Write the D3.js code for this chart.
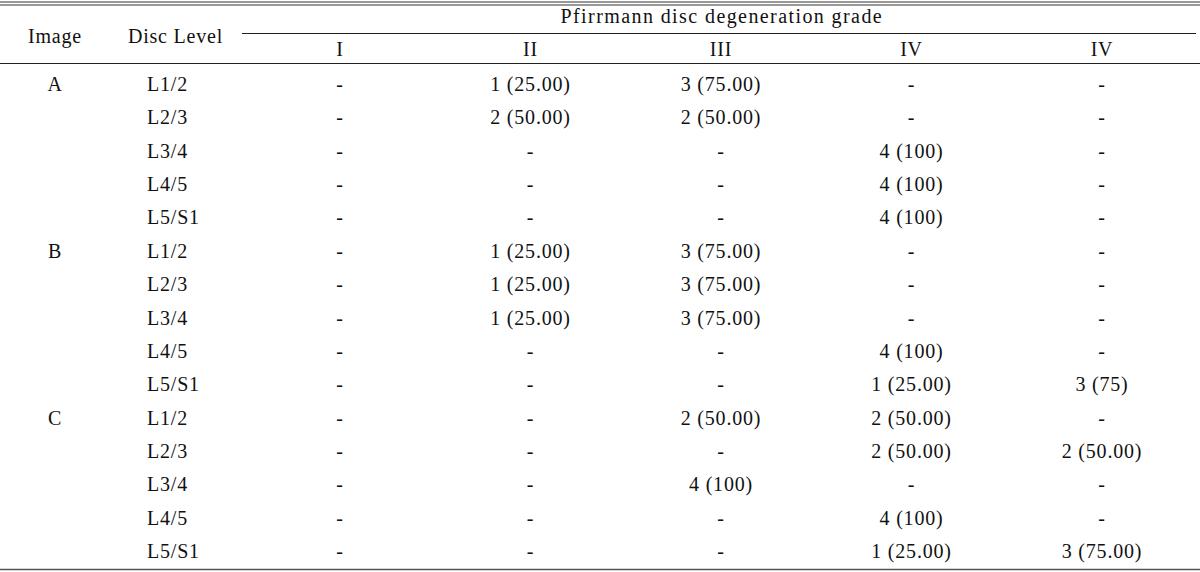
<!DOCTYPE html>
<html>
<head>
<meta charset="utf-8">
<script src="https://cdn.jsdelivr.net/npm/d3@7"></script>
<style>
  body { margin: 0; background: #fff; }
  svg text { font-family: "Liberation Serif", "DejaVu Serif", serif; font-size: 20px; letter-spacing: 0.8px; fill: #111; }
</style>
</head>
<body>
<svg id="chart" width="1200" height="572"></svg>
<script>
// table data
const images = ["A", "", "", "", "", "B", "", "", "", "", "C", "", "", "", ""];
const discLevels = ["L1/2", "L2/3", "L3/4", "L4/5", "L5/S1",
                    "L1/2", "L2/3", "L3/4", "L4/5", "L5/S1",
                    "L1/2", "L2/3", "L3/4", "L4/5", "L5/S1"];
const grades = ["I", "II", "III", "IV", "IV"];
const gradeI   = ["-", "-", "-", "-", "-", "-", "-", "-", "-", "-", "-", "-", "-", "-", "-"];
const gradeII  = ["1 (25.00)", "2 (50.00)", "-", "-", "-", "1 (25.00)", "1 (25.00)", "1 (25.00)", "-", "-", "-", "-", "-", "-", "-"];
const gradeIII = ["3 (75.00)", "2 (50.00)", "-", "-", "-", "3 (75.00)", "3 (75.00)", "3 (75.00)", "-", "-", "2 (50.00)", "-", "4 (100)", "-", "-"];
const gradeIV  = ["-", "-", "4 (100)", "4 (100)", "4 (100)", "-", "-", "-", "4 (100)", "1 (25.00)", "2 (50.00)", "2 (50.00)", "-", "4 (100)", "1 (25.00)"];
const gradeV   = ["-", "-", "-", "-", "-", "-", "-", "-", "-", "3 (75)", "-", "2 (50.00)", "-", "-", "3 (75.00)"];
const gradeCols = [gradeI, gradeII, gradeIII, gradeIV, gradeV];

const svg = d3.select("#chart");
const W = 1200;

// row positions
const y = d3.scalePoint().domain(d3.range(discLevels.length)).range([84, 551]);
// grade column centres
const x = d3.scalePoint().domain(d3.range(grades.length)).range([340, 1102]);

// rules
const rule = (x1, x2, yy, w, c) => svg.append("line")
    .attr("x1", x1).attr("x2", x2).attr("y1", yy).attr("y2", yy)
    .attr("stroke", c).attr("stroke-width", w);
rule(0, W, 2, 1.5, "#777");
rule(0, W, 5, 1.5, "#777");
rule(242, 1196, 33.5, 1.2, "#222");
rule(0, W, 63.5, 1.2, "#222");
rule(0, W, 569.5, 1.5, "#555");

// header
const header = svg.append("g").attr("dominant-baseline", "central");
header.append("text").attr("x", 55).attr("y", 36).attr("text-anchor", "middle").text("Image");
header.append("text").attr("x", 175.5).attr("y", 36).attr("text-anchor", "middle")
    .attr("textLength", 95).attr("lengthAdjust", "spacing")
    .text("Disc Level");
header.append("text").attr("x", 721.5).attr("y", 16).attr("text-anchor", "middle")
    .attr("textLength", 322).attr("lengthAdjust", "spacing")
    .text("Pfirrmann disc degeneration grade");
header.selectAll("text.grade").data(grades).join("text")
    .attr("class", "grade")
    .attr("x", (d, i) => x(i)).attr("y", 49)
    .attr("text-anchor", "middle")
    .text(d => d);

// body
const body = svg.append("g").attr("dominant-baseline", "central");
body.selectAll("text.img").data(images).join("text")
    .attr("class", "img")
    .attr("x", 55).attr("y", (d, i) => y(i))
    .attr("text-anchor", "middle").text(d => d);
body.selectAll("text.lvl").data(discLevels).join("text")
    .attr("class", "lvl")
    .attr("x", 147).attr("y", (d, i) => y(i))
    .text(d => d);

gradeCols.forEach((col, c) => {
  body.append("g").selectAll("text").data(col).join("text")
      .attr("x", x(c)).attr("y", (d, i) => y(i))
      .attr("text-anchor", "middle").text(d => d);
});
</script>
</body>
</html>
